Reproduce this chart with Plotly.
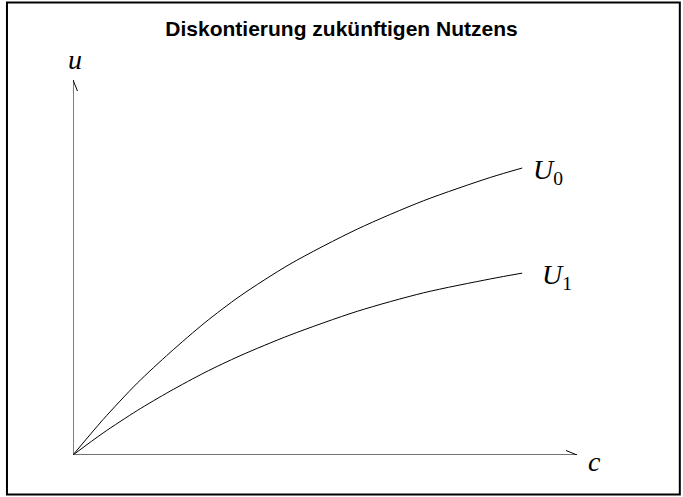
import plotly.graph_objects as go

# consumption c and utility values
c_vals = [0, 0.67, 1.43, 2.16, 2.94, 3.72, 4.83, 6.33, 7.80, 9.29, 10.0]
u0_vals = [0, 0.79, 1.60, 2.28, 2.95, 3.54, 4.25, 5.03, 5.66, 6.18, 6.39]
u1_vals = [0, 0.49, 0.99, 1.42, 1.84, 2.21, 2.67, 3.20, 3.61, 3.92, 4.05]

x_max = 11.22
y_max = 8.35

serif = "Liberation Serif, Times New Roman, serif"

fig = go.Figure()

for ys in [u0_vals, u1_vals]:
    fig.add_trace(go.Scatter(
        x=c_vals, y=ys, mode='lines', line_shape='spline',
        line=dict(color='black', width=1, smoothing=0.8), hoverinfo='skip'
    ))

shapes = [
    # axes
    dict(type='line', x0=0, y0=0, x1=x_max, y1=0, line=dict(color='#444444', width=1.5)),
    dict(type='line', x0=0, y0=0, x1=0, y1=y_max, line=dict(color='black', width=1)),
    # open arrowheads
    dict(type='line', xref='x', yref='y', xsizemode='pixel', ysizemode='pixel',
         xanchor=x_max, yanchor=0, x0=-11, y0=4.5, x1=0, y1=0,
         line=dict(color='black', width=1)),
    dict(type='line', xref='x', yref='y', xsizemode='pixel', ysizemode='pixel',
         xanchor=x_max, yanchor=0, x0=-11, y0=-4.5, x1=0, y1=0,
         line=dict(color='black', width=1)),
    dict(type='line', xref='x', yref='y', xsizemode='pixel', ysizemode='pixel',
         xanchor=0, yanchor=y_max, x0=-4.5, y0=-11, x1=0, y1=0,
         line=dict(color='black', width=1)),
    dict(type='line', xref='x', yref='y', xsizemode='pixel', ysizemode='pixel',
         xanchor=0, yanchor=y_max, x0=4.5, y0=-11, x1=0, y1=0,
         line=dict(color='black', width=1)),
    # frame
    dict(type='rect', xref='paper', yref='paper', x0=-0.131, x1=1.204, y0=-0.105, y1=1.207,
         line=dict(color='black', width=2), layer='below'),
]

annotations = [
    dict(x=c_vals[-1], y=u0_vals[-1], xref='x', yref='y', text='<i>U</i><sub>0</sub>',
         showarrow=False, xanchor='left', yanchor='middle', xshift=9, yshift=-3,
         font=dict(family=serif, size=28, color='black')),
    dict(x=c_vals[-1], y=u1_vals[-1], xref='x', yref='y', text='<i>U</i><sub>1</sub>',
         showarrow=False, xanchor='left', yanchor='middle', xshift=18, yshift=-3,
         font=dict(family=serif, size=28, color='black')),
    dict(x=0, y=y_max, xref='x', yref='y', text='<i>u</i>', showarrow=False,
         xanchor='center', yanchor='bottom', xshift=2, yshift=3,
         font=dict(family=serif, size=28, color='black')),
    dict(x=x_max, y=0, xref='x', yref='y', text='<i>c</i>', showarrow=False,
         xanchor='left', yanchor='middle', xshift=9, yshift=-6,
         font=dict(family=serif, size=28, color='black')),
]

fig.update_layout(
    title=dict(
        text='<b>Diskontierung zukünftigen Nutzens</b>',
        x=0.5, xanchor='center', y=0.943, yanchor='middle',
        font=dict(family='Liberation Sans, Arial, sans-serif', size=21, color='black')
    ),
    width=683, height=497,
    margin=dict(l=73, r=106, t=80, b=42),
    xaxis=dict(range=[0, x_max], visible=False),
    yaxis=dict(range=[0, y_max], visible=False),
    shapes=shapes,
    annotations=annotations,
    showlegend=False,
    paper_bgcolor='white',
    plot_bgcolor='white',
)

fig.write_html("out.html", config={'displayModeBar': False},
               post_script="document.body.style.margin = '0';")
